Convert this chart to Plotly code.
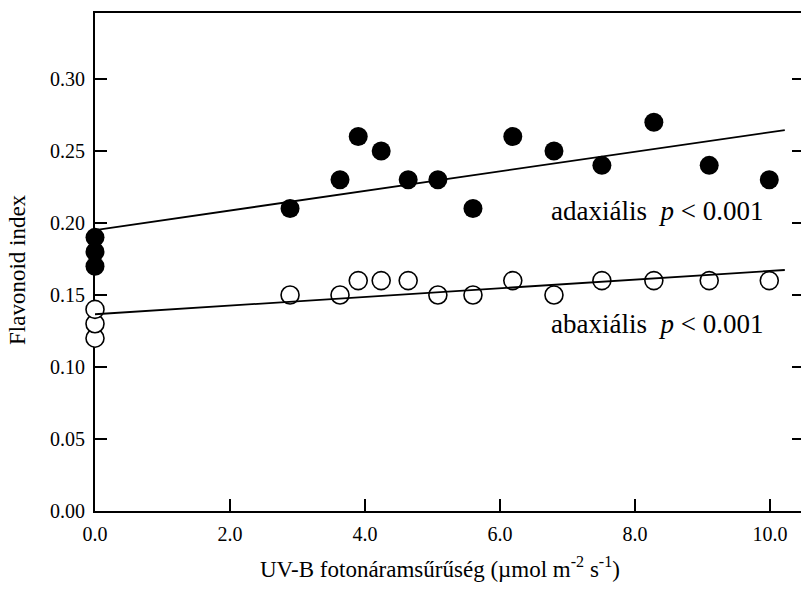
import numpy as np
import plotly.graph_objects as go

# UV-B photon flux density (µmol m-2 s-1)
x_uvb = [0.0, 0.0, 0.0, 2.89, 3.63, 3.90, 4.24, 4.64, 5.08, 5.60, 6.19, 6.80, 7.51, 8.28, 9.10, 9.99]
# Flavonoid index, adaxial (filled) and abaxial (open)
adaxial = [0.17, 0.18, 0.19, 0.21, 0.23, 0.26, 0.25, 0.23, 0.23, 0.21, 0.26, 0.25, 0.24, 0.27, 0.24, 0.23]
abaxial = [0.12, 0.13, 0.14, 0.15, 0.15, 0.16, 0.16, 0.16, 0.15, 0.15, 0.16, 0.15, 0.16, 0.16, 0.16, 0.16]

fit_x = [0.0, 10.22]
x_ticks = [0, 2, 4, 6, 8, 10]
y_ticks = [0.0, 0.05, 0.10, 0.15, 0.20, 0.25, 0.30]
x_range = [0, 10.46]
y_range = [0, 0.3458]

FONT = "Liberation Serif, Times New Roman, serif"

def fit_line(xs, ys):
    b, a = np.polyfit(xs, ys, 1)
    return [a + b * v for v in fit_x]

fig = go.Figure()

fig.add_trace(go.Scatter(x=fit_x, y=fit_line(x_uvb, adaxial), mode="lines",
                         line=dict(color="black", width=1.8), yaxis="y2",
                         showlegend=False, cliponaxis=False))
fig.add_trace(go.Scatter(x=fit_x, y=fit_line(x_uvb, abaxial), mode="lines",
                         line=dict(color="black", width=1.8), yaxis="y2",
                         showlegend=False, cliponaxis=False))
fig.add_trace(go.Scatter(x=x_uvb, y=adaxial, mode="markers",
                         marker=dict(size=19, color="black", line=dict(width=0)),
                         showlegend=False, cliponaxis=False))
fig.add_trace(go.Scatter(x=x_uvb, y=abaxial, mode="markers",
                         marker=dict(size=18, color="white", line=dict(width=1.6, color="black")),
                         showlegend=False, cliponaxis=False))

fig.update_layout(
    width=801, height=590,
    margin=dict(l=95, r=0, t=13, b=79),
    paper_bgcolor="white", plot_bgcolor="white",
    font=dict(family=FONT, color="black", size=20),
    xaxis=dict(range=x_range, tickvals=x_ticks, ticktext=[f"{v:.1f}" for v in x_ticks],
               ticks="inside", ticklen=12, tickwidth=2, tickcolor="black",
               showline=True, linewidth=2, linecolor="black", mirror=True,
               showgrid=False, zeroline=False, automargin=False,
               tickfont=dict(family=FONT, size=20), ticklabelstandoff=4,
               layer="below traces"),
    yaxis=dict(range=y_range, tickvals=y_ticks, ticktext=[f"{v:.2f}" for v in y_ticks],
               ticks="inside", ticklen=12, tickwidth=2, tickcolor="black",
               showline=True, linewidth=2, linecolor="black",
               showgrid=False, zeroline=False, automargin=False,
               tickfont=dict(family=FONT, size=20), ticklabelstandoff=4,
               layer="below traces"),
    yaxis2=dict(range=y_range, tickvals=y_ticks, overlaying="y", side="right",
                ticks="inside", ticklen=9, tickwidth=2, tickcolor="black",
                showticklabels=False, showline=False, showgrid=False,
                zeroline=False, automargin=False),
)

fig.add_annotation(text="adaxiális&nbsp; <i>p</i> &lt; 0.001", x=6.72, y=0.208,
                   xref="x", yref="y", xanchor="left", yanchor="middle",
                   showarrow=False, font=dict(family=FONT, size=27))
fig.add_annotation(text="abaxiális&nbsp; <i>p</i> &lt; 0.001", x=6.72, y=0.130,
                   xref="x", yref="y", xanchor="left", yanchor="middle",
                   showarrow=False, font=dict(family=FONT, size=27))

fig.add_annotation(text="UV-B fotonáramsűrűség (µmol m<sup>-2</sup> s<sup>-1</sup>)",
                   x=0.489, y=-0.113, xref="paper", yref="paper",
                   xanchor="center", yanchor="middle", showarrow=False,
                   font=dict(family=FONT, size=23))
fig.add_annotation(text="Flavonoid index", x=-0.109, y=0.484, xref="paper", yref="paper",
                   xanchor="center", yanchor="middle", textangle=-90, showarrow=False,
                   font=dict(family=FONT, size=23))

fig.write_html("out.html")
